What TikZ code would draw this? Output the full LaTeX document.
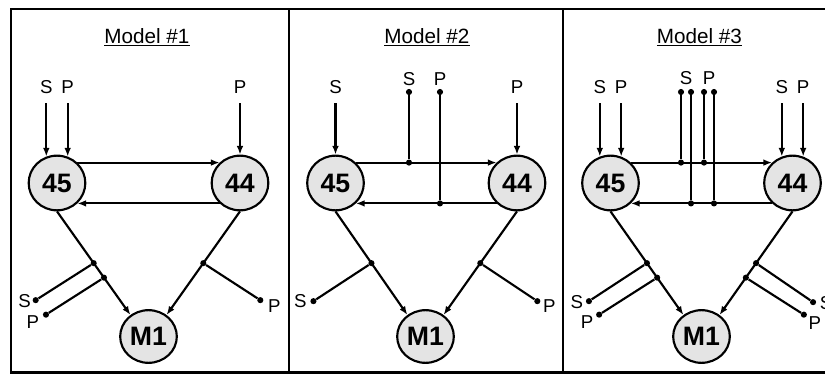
\documentclass[tikz,border=0pt]{standalone}
\usepackage{fontspec}
\setmainfont{Liberation Sans}
\usetikzlibrary{arrows.meta,calc,shapes.geometric}
\definecolor{nodefill}{RGB}{228,228,228}
\tikzset{
  box/.style={ellipse, draw, fill=nodefill, line width=1.6pt, inner sep=0pt,
    minimum width=42.5pt, minimum height=41pt,
    font=\fontsize{20}{21}\selectfont\bfseries},
  mbox/.style={box, minimum height=39.5pt},
  paneltitle/.style={font=\fontsize{15.5}{17}\selectfont, inner sep=0pt},
  lbltext/.style={font=\fontsize{14}{15}\selectfont, inner sep=0pt},
  arr/.style={line width=1.6pt, -{Latex[length=6.5pt,width=5pt]}},
  inarr/.style={arr, shorten <=7pt},
  wire/.style={line width=1.6pt},
  dotnode/.style={circle, fill, inner sep=0pt, minimum size=4.6pt},
  panelframe/.style={line width=1.9pt},
}
\begin{document}
\begin{tikzpicture}[x=0.75pt,y=-0.75pt]
\clip (0,0) rectangle (825,382);
\fill[white] (0,0) rectangle (825,382);

% frame and panel dividers
\draw[panelframe] (11,9) rectangle (860,372.5);
\draw[panelframe] (289,9) -- (289,372.5);
\draw[panelframe] (563,9) -- (563,372.5);

% ---------------- Model #1 ----------------
\node[paneltitle] (tA) at (147,37) {\underline{Model \#1}};
\node[box] (a45) at (57,183) {45};
\node[box] (a44) at (240,183) {44};
\node[mbox] (aM) at (148.5,336.5) {M1};
\node[lbltext] (aS) at (a45.112 |- 0,87) {S};
\node[lbltext] (aP) at (a45.68 |- 0,87) {P};
\node[lbltext] (aP2) at (a44.north |- 0,87) {P};
\draw[inarr] (aS) -- (a45.112);
\draw[inarr] (aP) -- (a45.68);
\draw[inarr] (aP2) -- (a44.north);
\draw[arr] (a45.45) -- (a44.135);
\draw[arr] (a44.-135) -- (a45.-45);
\draw[arr] (a45.south) -- coordinate[pos=0.5] (aj1) coordinate[pos=0.64] (aj2) (aM.130);
\draw[arr] (a44.south) -- coordinate[pos=0.5] (aj3) (aM.50);
\node[dotnode] (aJ1) at (aj1) {};
\node[dotnode] (aJ2) at (aj2) {};
\node[dotnode] (aJ3) at (aj3) {};
\node[dotnode] (aE1) at ($(aj1)+(-58,37)$) {};
\node[dotnode] (aE2) at ($(aj2)+(-58,37)$) {};
\node[dotnode] (aE3) at ($(aj3)+(57,37)$) {};
\draw[wire] (aJ1) -- (aE1);
\draw[wire] (aJ2) -- (aE2);
\draw[wire] (aJ3) -- (aE3);
\node[lbltext] (aSb) at ($(aE1)+(-11,1)$) {S};
\node[lbltext] (aPb) at ($(aE2)+(-13,7)$) {P};
\node[lbltext] (aPc) at ($(aE3)+(14,6)$) {P};

% ---------------- Model #2 ----------------
\node[paneltitle] (tB) at (427,37) {\underline{Model \#2}};
\node[box] (b45) at (335.5,183) {45};
\node[box] (b44) at (517,183) {44};
\node[mbox] (bM) at (425.5,336.5) {M1};
\node[lbltext] (bS) at (b45.north |- 0,87) {S};
\node[lbltext] (bP) at (b44.north |- 0,87) {P};
\draw[inarr] (bS) -- (b45.north);
\draw[inarr] (bP) -- (b44.north);
\draw[arr] (b45.45) -- (b44.135);
\draw[arr] (b44.-135) -- (b45.-45);
\node[dotnode] (bTS) at (409,92) {};
\node[dotnode] (bTP) at (440,92) {};
\node[lbltext] (bSc) at (409,79) {S};
\node[lbltext] (bPc) at (440,79) {P};
\node[dotnode] (bHS) at (bTS |- b45.45) {};
\node[dotnode] (bHP) at (bTP |- b45.-45) {};
\draw[wire] (bTS) -- (bHS);
\draw[wire] (bTP) -- (bHP);
\draw[arr] (b45.south) -- coordinate[pos=0.5] (bj1) (bM.130);
\draw[arr] (b44.south) -- coordinate[pos=0.5] (bj3) (bM.50);
\node[dotnode] (bJ1) at (bj1) {};
\node[dotnode] (bJ3) at (bj3) {};
\node[dotnode] (bE1) at ($(bj1)+(-58,38)$) {};
\node[dotnode] (bE3) at ($(bj3)+(57,38)$) {};
\draw[wire] (bJ1) -- (bE1);
\draw[wire] (bJ3) -- (bE3);
\node[lbltext] (bSb) at ($(bE1)+(-13,0)$) {S};
\node[lbltext] (bPb) at ($(bE3)+(12,5)$) {P};

% ---------------- Model #3 ----------------
\node[paneltitle] (tC) at (699.5,37) {\underline{Model \#3}};
\node[box] (c45) at (610.5,183) {45};
\node[box] (c44) at (792.5,183) {44};
\node[mbox] (cM) at (701.5,336.5) {M1};
\node[lbltext] (cS) at (c45.112 |- 0,87) {S};
\node[lbltext] (cP) at (c45.68 |- 0,87) {P};
\node[lbltext] (cS2) at (c44.112 |- 0,87) {S};
\node[lbltext] (cP2) at (c44.68 |- 0,87) {P};
\draw[inarr] (cS) -- (c45.112);
\draw[inarr] (cP) -- (c45.68);
\draw[inarr] (cS2) -- (c44.112);
\draw[inarr] (cP2) -- (c44.68);
\draw[arr] (c45.45) -- (c44.135);
\draw[arr] (c44.-135) -- (c45.-45);
\node[dotnode] (cT1) at (681,92) {};
\node[dotnode] (cT2) at (691,92) {};
\node[dotnode] (cT3) at (704,92) {};
\node[dotnode] (cT4) at (714,92) {};
\node[lbltext] (cSc) at (686,78) {S};
\node[lbltext] (cPc) at (709,78) {P};
\node[dotnode] (cH1) at (cT1 |- c45.45) {};
\node[dotnode] (cH2) at (cT2 |- c45.-45) {};
\node[dotnode] (cH3) at (cT3 |- c45.45) {};
\node[dotnode] (cH4) at (cT4 |- c45.-45) {};
\draw[wire] (cT1) -- (cH1);
\draw[wire] (cT2) -- (cH2);
\draw[wire] (cT3) -- (cH3);
\draw[wire] (cT4) -- (cH4);
\draw[arr] (c45.south) -- coordinate[pos=0.5] (cj1) coordinate[pos=0.64] (cj2) (cM.130);
\draw[arr] (c44.south) -- coordinate[pos=0.5] (cj3) coordinate[pos=0.64] (cj4) (cM.50);
\node[dotnode] (cJ1) at (cj1) {};
\node[dotnode] (cJ2) at (cj2) {};
\node[dotnode] (cJ3) at (cj3) {};
\node[dotnode] (cJ4) at (cj4) {};
\node[dotnode] (cE1) at ($(cj1)+(-58,38)$) {};
\node[dotnode] (cE2) at ($(cj2)+(-58,37)$) {};
\node[dotnode] (cE3) at ($(cj3)+(57,39)$) {};
\node[dotnode] (cE4) at ($(cj4)+(58,37)$) {};
\draw[wire] (cJ1) -- (cE1);
\draw[wire] (cJ2) -- (cE2);
\draw[wire] (cJ3) -- (cE3);
\draw[wire] (cJ4) -- (cE4);
\node[lbltext] (cSb) at ($(cE1)+(-12,1)$) {S};
\node[lbltext] (cPb) at ($(cE2)+(-12,7)$) {P};
\node[lbltext] (cSd) at ($(cE3)+(13,1)$) {S};
\node[lbltext] (cPd) at ($(cE4)+(11,8)$) {P};
\end{tikzpicture}
\end{document}
